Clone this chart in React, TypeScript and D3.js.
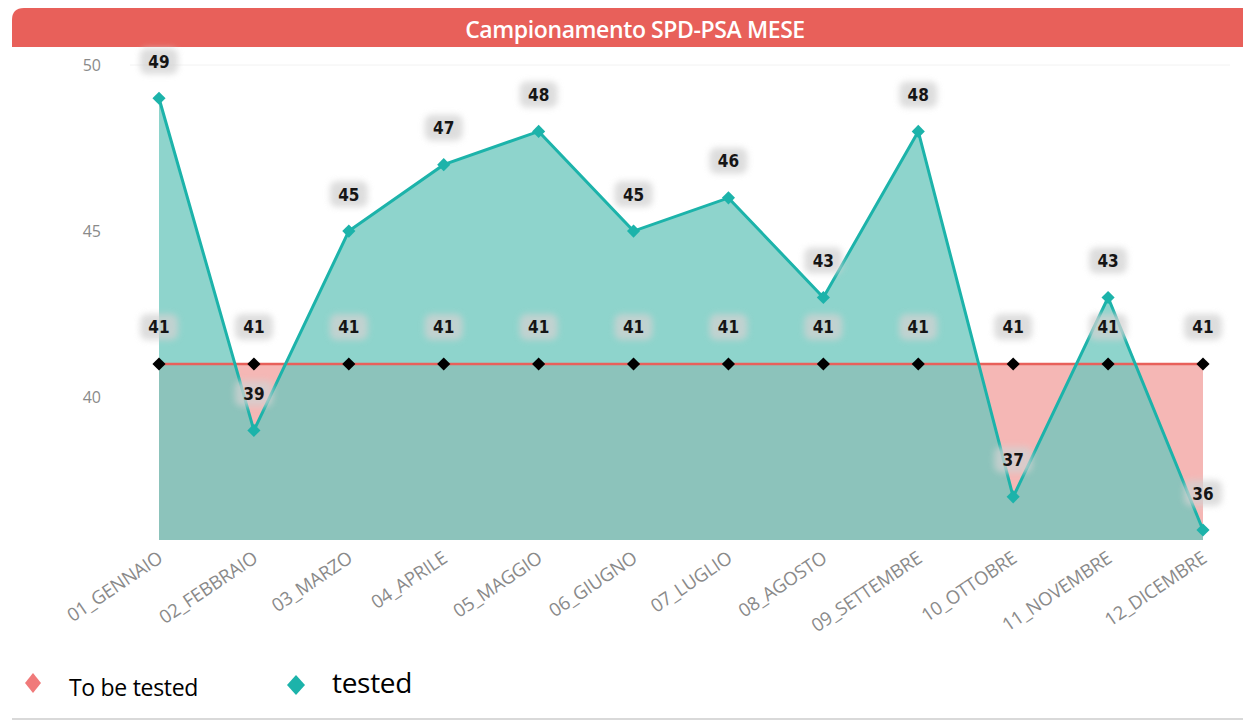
import { useEffect, useRef } from "react";
import * as d3 from "d3";

const months = [
  "01_GENNAIO", "02_FEBBRAIO", "03_MARZO", "04_APRILE", "05_MAGGIO", "06_GIUGNO",
  "07_LUGLIO", "08_AGOSTO", "09_SETTEMBRE", "10_OTTOBRE", "11_NOVEMBRE", "12_DICEMBRE",
];
const toBeTested = [41, 41, 41, 41, 41, 41, 41, 41, 41, 41, 41, 41];
const tested = [49, 39, 45, 47, 48, 45, 46, 43, 48, 37, 43, 36];
const yTicks = [40, 45, 50];

const W = 1243, H = 724;
const RED = "#e8605a";
const TEAL = "#1cb3aa";

export default function App() {
  const svgRef = useRef<SVGSVGElement>(null);

  useEffect(() => {
    const svg = d3.select(svgRef.current);
    svg.selectAll("*").remove();

    const defs = svg.append("defs");
    defs.append("filter").attr("id", "blur")
      .attr("x", "-50%").attr("y", "-50%").attr("width", "200%").attr("height", "200%")
      .append("feGaussianBlur").attr("stdDeviation", 3);

    svg.append("rect").attr("width", W).attr("height", H).attr("fill", "#fff");

    // title bar
    svg.append("path")
      .attr("d", "M12,47 L12,20 Q12,8 24,8 L1243,8 L1243,47 Z")
      .attr("fill", RED);
    svg.append("text")
      .attr("x", 635).attr("y", 38)
      .attr("text-anchor", "middle")
      .attr("fill", "#fff")
      .style("font-family", "'Open Sans', sans-serif")
      .style("font-weight", 600)
      .style("font-size", "23px")
      .style("letter-spacing", "-0.4px")
      .text("Campionamento SPD-PSA MESE");

    const x = d3.scalePoint().domain(months).range([159, 1203]);
    const y = d3.scaleLinear().domain([35.7, 50]).range([540, 65]);
    const base = y.domain()[0];

    // faint top gridline
    svg.append("line").attr("x1", 130).attr("x2", 1230)
      .attr("y1", y(50)).attr("y2", y(50))
      .attr("stroke", "#f2f2f2").attr("stroke-width", 1);

    // y axis labels
    svg.append("g").selectAll("text").data(yTicks).join("text")
      .attr("x", 101).attr("y", d => y(d) + 6)
      .attr("text-anchor", "end")
      .attr("fill", "#8a8a8a")
      .style("font-family", "'Open Sans', sans-serif")
      .style("font-size", "16px")
      .text(d => d);

    const area = (vals: number[]) => d3.area<number>()
      .x((_, i) => x(months[i])!)
      .y0(y(base))
      .y1(d => y(d))(vals);
    const line = (vals: number[]) => d3.line<number>()
      .x((_, i) => x(months[i])!)
      .y(d => y(d))(vals);

    svg.append("path").attr("d", area(toBeTested)!)
      .attr("fill", RED).attr("fill-opacity", 0.45);
    svg.append("path").attr("d", area(tested)!)
      .attr("fill", "#6cc7bd").attr("fill-opacity", 0.77);

    svg.append("path").attr("d", line(toBeTested)!)
      .attr("fill", "none").attr("stroke", RED).attr("stroke-width", 2.5);
    svg.append("path").attr("d", line(tested)!)
      .attr("fill", "none").attr("stroke", TEAL).attr("stroke-width", 3);

    const diamond = d3.symbol().type(d3.symbolDiamond2).size(110)();

    svg.append("g").selectAll("path").data(toBeTested).join("path")
      .attr("d", diamond)
      .attr("transform", (d, i) => `translate(${x(months[i])},${y(d)})`)
      .attr("fill", "#000");
    svg.append("g").selectAll("path").data(tested).join("path")
      .attr("d", diamond)
      .attr("transform", (d, i) => `translate(${x(months[i])},${y(d)})`)
      .attr("fill", TEAL);

    // data labels with soft grey background
    const labels = (vals: number[]) => {
      const g = svg.append("g");
      vals.forEach((v, i) => {
        const cx = x(months[i])!;
        const cy = y(v) - 37;
        g.append("rect")
          .attr("x", cx - 19).attr("y", cy - 13).attr("width", 38).attr("height", 26)
          .attr("rx", 7).attr("fill", "#d2d2d2").attr("opacity", 0.75)
          .attr("filter", "url(#blur)");
        g.append("text")
          .attr("x", cx).attr("y", cy + 6.5)
          .attr("text-anchor", "middle")
          .attr("fill", "#151515")
          .style("font-family", "'DejaVu Sans Condensed', 'DejaVu Sans', sans-serif")
          .style("font-weight", "bold")
          .style("font-size", "17px")
          .text(v);
      });
    };
    labels(toBeTested);
    labels(tested);

    // x axis labels
    svg.append("g").selectAll("text").data(months).join("text")
      .attr("transform", d => `translate(${x(d)! + 5},${561}) rotate(-34)`)
      .attr("text-anchor", "end")
      .attr("fill", "#8a8a8a")
      .style("font-family", "'Open Sans', sans-serif")
      .style("font-size", "18.5px")
      .style("letter-spacing", "-0.2px")
      .text(d => d);

    // legend
    const legend = svg.append("g");
    legend.append("path").attr("d", "M0,-10 L8,0 L0,10 L-8,0 Z")
      .attr("transform", "translate(33,683)").attr("fill", "#f07a7a");
    legend.append("text").attr("x", 69).attr("y", 696)
      .attr("fill", "#000")
      .style("font-family", "'Open Sans', sans-serif")
      .style("font-size", "23px")
      .style("letter-spacing", "-0.3px")
      .text("To be tested");
    legend.append("path").attr("d", "M0,-10 L9,0 L0,10 L-9,0 Z")
      .attr("transform", "translate(296,685)").attr("fill", TEAL);
    legend.append("text").attr("x", 332).attr("y", 693)
      .attr("fill", "#000")
      .style("font-family", "'Open Sans', sans-serif")
      .style("font-size", "28px")
      .style("letter-spacing", "-0.3px")
      .text("tested");

    svg.append("line").attr("x1", 12).attr("x2", 1243).attr("y1", 719).attr("y2", 719)
      .attr("stroke", "#d9d9d9").attr("stroke-width", 2);
  }, []);

  return (
    <svg ref={svgRef} width={W} height={H}
      style={{ position: "absolute", left: 0, top: 0, display: "block" }} />
  );
}
